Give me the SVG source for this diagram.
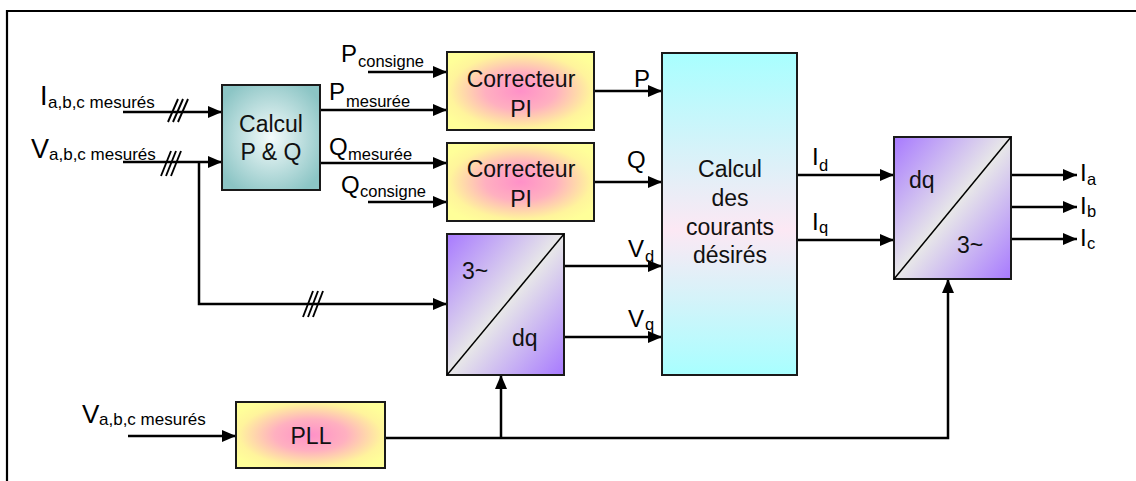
<svg xmlns="http://www.w3.org/2000/svg" width="1136" height="481" viewBox="0 0 1136 481">
<defs>
<style>
.box{stroke:#1a1a1a;stroke-width:2}
.ln{fill:none;stroke:#000;stroke-width:2.5}
.hs{fill:none;stroke:#000;stroke-width:1.9}
.t{font-family:"Liberation Sans",Arial,sans-serif;font-size:23px;fill:#111}
.m{font-family:"Liberation Sans",Arial,sans-serif;font-size:25px;fill:#000}
.s{font-family:"Liberation Sans",Arial,sans-serif;font-size:16.5px;fill:#000}
</style>
<marker id="ah" markerWidth="14" markerHeight="12" refX="14" refY="6" orient="auto" markerUnits="userSpaceOnUse">
<path d="M0,0 L14,6 L0,12 Z" fill="#000"/>
</marker>
<radialGradient id="gTeal" cx="0.5" cy="0.5" r="0.6">
<stop offset="0" stop-color="#f4fbfb"/>
<stop offset="1" stop-color="#8cc5c5"/>
</radialGradient>
<radialGradient id="gYP" cx="0.5" cy="0.5" r="0.6">
<stop offset="0" stop-color="#ff90c8"/>
<stop offset="0.4" stop-color="#ffb0c0"/>
<stop offset="0.8" stop-color="#fff49c"/>
<stop offset="1" stop-color="#ffff99"/>
</radialGradient>
<linearGradient id="gCyan" x1="0" y1="0" x2="0" y2="1">
<stop offset="0" stop-color="#a8ffff"/>
<stop offset="0.55" stop-color="#fce8f4"/>
<stop offset="1" stop-color="#a8ffff"/>
</linearGradient>
<linearGradient id="gPur" x1="0" y1="0" x2="1" y2="1">
<stop offset="0" stop-color="#a779ff"/>
<stop offset="0.5" stop-color="#e8e8e8"/>
<stop offset="1" stop-color="#a779ff"/>
</linearGradient>
</defs>
<rect width="1136" height="481" fill="#fff"/>
<g id="frame">
<line x1="7" y1="11" x2="1136" y2="11" stroke="#000" stroke-width="2.2"/>
<line x1="7" y1="10" x2="7" y2="481" stroke="#000" stroke-width="2.2"/>
</g>

<g id="connectors">
<line class="ln" x1="123" y1="112" x2="222" y2="112" marker-end="url(#ah)"/>
<line class="ln" x1="123" y1="162" x2="222" y2="162" marker-end="url(#ah)"/>
<polyline class="ln" points="199,162 199,304 447,304" marker-end="url(#ah)"/>
<line class="ln" x1="368" y1="72" x2="447" y2="72" marker-end="url(#ah)"/>
<line class="ln" x1="320" y1="110" x2="447" y2="110" marker-end="url(#ah)"/>
<line class="ln" x1="320" y1="163" x2="447" y2="163" marker-end="url(#ah)"/>
<line class="ln" x1="368" y1="202" x2="447" y2="202" marker-end="url(#ah)"/>
<line class="ln" x1="594" y1="91" x2="662" y2="91" marker-end="url(#ah)"/>
<line class="ln" x1="594" y1="182" x2="662" y2="182" marker-end="url(#ah)"/>
<line class="ln" x1="565" y1="266" x2="662" y2="266" marker-end="url(#ah)"/>
<line class="ln" x1="565" y1="337" x2="662" y2="337" marker-end="url(#ah)"/>
<line class="ln" x1="797" y1="175" x2="894" y2="175" marker-end="url(#ah)"/>
<line class="ln" x1="797" y1="240" x2="894" y2="240" marker-end="url(#ah)"/>
<line class="ln" x1="1011" y1="175" x2="1077" y2="175" marker-end="url(#ah)"/>
<line class="ln" x1="1011" y1="207" x2="1077" y2="207" marker-end="url(#ah)"/>
<line class="ln" x1="1011" y1="239" x2="1077" y2="239" marker-end="url(#ah)"/>
<line class="ln" x1="128" y1="436" x2="236" y2="436" marker-end="url(#ah)"/>
<polyline class="ln" points="385,438 948,438 948,279" marker-end="url(#ah)"/>
<line class="ln" x1="501" y1="438" x2="501" y2="375" marker-end="url(#ah)"/>
<g id="hash1"><line class="hs" x1="168" y1="122" x2="178" y2="99"/><line class="hs" x1="173" y1="122" x2="183" y2="99"/><line class="hs" x1="178" y1="122" x2="188" y2="99"/></g>
<g id="hash2"><line class="hs" x1="161" y1="176" x2="171" y2="151"/><line class="hs" x1="166" y1="176" x2="176" y2="151"/><line class="hs" x1="171" y1="176" x2="181" y2="151"/></g>
<g id="hash3"><line class="hs" x1="303" y1="317" x2="313" y2="291"/><line class="hs" x1="308" y1="317" x2="318" y2="291"/><line class="hs" x1="313" y1="317" x2="323" y2="291"/></g>
</g>

<g id="calcPQ">
<rect class="box" x="222" y="85" width="98" height="105" fill="url(#gTeal)"/>
<text class="t" x="271" y="132" text-anchor="middle">Calcul</text>
<text class="t" x="271" y="160" text-anchor="middle">P &amp; Q</text>
</g>
<g id="corrP">
<rect class="box" x="447" y="52" width="147" height="78" fill="url(#gYP)"/>
<text class="t" x="521" y="87" text-anchor="middle">Correcteur</text>
<text class="t" x="521" y="117" text-anchor="middle">PI</text>
</g>
<g id="corrQ">
<rect class="box" x="447" y="143" width="147" height="78" fill="url(#gYP)"/>
<text class="t" x="521" y="177" text-anchor="middle">Correcteur</text>
<text class="t" x="521" y="207" text-anchor="middle">PI</text>
</g>
<g id="calcCourants">
<rect class="box" x="662" y="53" width="135" height="322" fill="url(#gCyan)"/>
<text class="t" x="730" y="177" text-anchor="middle">Calcul</text>
<text class="t" x="730" y="206" text-anchor="middle">des</text>
<text class="t" x="730" y="235" text-anchor="middle">courants</text>
<text class="t" x="730" y="263" text-anchor="middle">désirés</text>
</g>
<g id="abc2dq">
<rect class="box" x="447" y="234" width="117" height="141" fill="url(#gPur)"/>
<line x1="447" y1="375" x2="564" y2="234" stroke="#000" stroke-width="1.5"/>
<text class="t" x="462" y="279">3~</text>
<text class="t" x="512" y="346">dq</text>
</g>
<g id="dq2abc">
<rect class="box" x="894" y="137" width="117" height="142" fill="url(#gPur)"/>
<line x1="894" y1="279" x2="1011" y2="137" stroke="#000" stroke-width="1.5"/>
<text class="t" x="909" y="188">dq</text>
<text class="t" x="957" y="253">3~</text>
</g>
<g id="pll">
<rect class="box" x="236" y="402" width="149" height="66" fill="url(#gYP)"/>
<text class="t" x="311" y="444" text-anchor="middle">PLL</text>
</g>

<g id="labels">
<text class="m" x="40" y="105" style="font-size:27px">I</text><text class="s" x="48" y="108" style="font-size:17px">a,b,c mesurés</text>
<text class="m" x="31" y="158" style="font-size:27px">V</text><text class="s" x="49" y="160" style="font-size:17px">a,b,c mesurés</text>
<text class="m" x="82" y="423" style="font-size:26px">V</text><text class="s" x="99" y="425" style="font-size:17px">a,b,c mesurés</text>
<text class="m" x="341" y="62" style="font-size:24px">P</text><text class="s" x="358" y="67">consigne</text>
<text class="m" x="329" y="100" style="font-size:24px">P</text><text class="s" x="346" y="107">mesurée</text>
<text class="m" x="329" y="155" style="font-size:24px">Q</text><text class="s" x="348" y="160">mesurée</text>
<text class="m" x="341" y="193" style="font-size:24px">Q</text><text class="s" x="360" y="197">consigne</text>
<text class="m" x="634" y="87" style="font-size:24px">P</text>
<text class="m" x="627" y="168" style="font-size:24px">Q</text>
<text class="m" x="628" y="257" style="font-size:24px">V</text><text class="s" x="645" y="262">d</text>
<text class="m" x="628" y="327" style="font-size:24px">V</text><text class="s" x="645" y="330">q</text>
<text class="m" x="812" y="165" style="font-size:24px">I</text><text class="s" x="819" y="171">d</text>
<text class="m" x="812" y="230" style="font-size:24px">I</text><text class="s" x="819" y="233">q</text>
<text class="m" x="1080" y="181" style="font-size:24px">I</text><text class="s" x="1087" y="185">a</text>
<text class="m" x="1080" y="214" style="font-size:24px">I</text><text class="s" x="1087" y="217">b</text>
<text class="m" x="1080" y="246" style="font-size:24px">I</text><text class="s" x="1087" y="249">c</text>
</g>
</svg>
